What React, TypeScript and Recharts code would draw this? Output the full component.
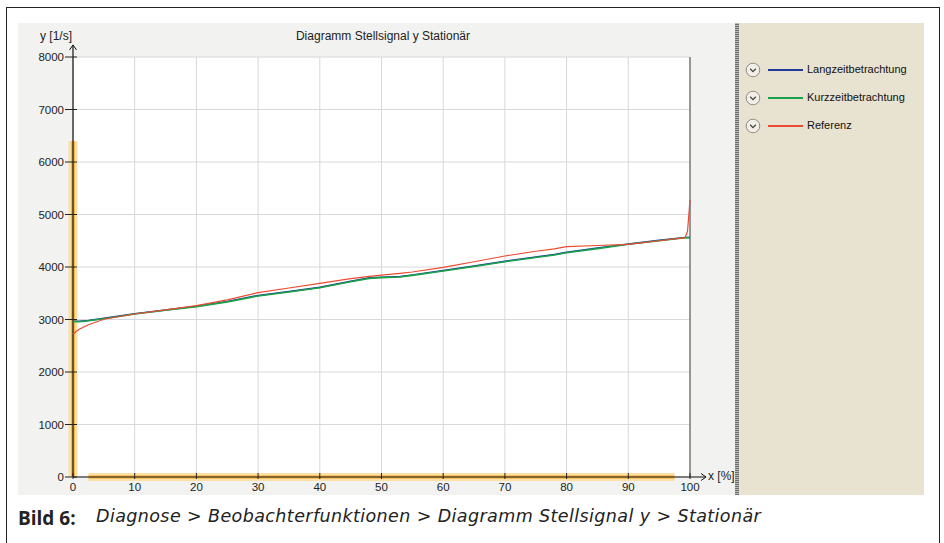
import { LineChart, Line, XAxis, YAxis, CartesianGrid, ReferenceLine } from 'recharts'

const xPct = [0, 0.5, 1, 2.5, 5, 10, 15, 20, 25, 30, 35, 40, 45, 48, 50, 53, 55, 60, 65, 70, 75, 78, 80, 85, 90, 95, 99.2, 99.6, 100]
const langzeit = [2968, 2966, 2966, 2983, 3022, 3112, 3183, 3253, 3345, 3458, 3535, 3616, 3730, 3793, 3806, 3820, 3850, 3934, 4020, 4111, 4190, 4240, 4282, 4360, 4440, 4508, 4562, 4562, 4562]
const kurzzeit = [2960, 2958, 2958, 2975, 3015, 3105, 3175, 3245, 3335, 3448, 3525, 3606, 3720, 3784, 3797, 3810, 3840, 3924, 4010, 4101, 4180, 4230, 4272, 4350, 4432, 4500, 4558, 4560, 4560]
const referenz = [2720, 2770, 2815, 2900, 3005, 3105, 3185, 3265, 3375, 3511, 3600, 3689, 3780, 3820, 3845, 3880, 3905, 3994, 4100, 4210, 4300, 4345, 4387, 4410, 4432, 4500, 4558, 4680, 5276]

const xTicks = [0, 10, 20, 30, 40, 50, 60, 70, 80, 90, 100]
const yTicks = [0, 1000, 2000, 3000, 4000, 5000, 6000, 7000, 8000]

const legendItems = [
  { name: 'Langzeitbetrachtung', color: '#23399a' },
  { name: 'Kurzzeitbetrachtung', color: '#19a24a' },
  { name: 'Referenz', color: '#ec4a32' },
]

const data = xPct.map((x, i) => ({ x, lang: langzeit[i], kurz: kurzzeit[i], ref: referenz[i] }))

const FONT = '"Liberation Sans", Arial, sans-serif'

function YTick(p: any) {
  const ax = p.x + 9
  return (
    <g>
      <line x1={ax - 8} x2={ax + 4} y1={p.y} y2={p.y} stroke="#222" />
      <text x={p.x} y={p.y} dy="0.36em" textAnchor="end" fontSize={11.5} fill="#222" fontFamily={FONT}>{p.payload.value}</text>
    </g>
  )
}

function XTick(p: any) {
  const ay = p.y - 5
  return (
    <g>
      <line x1={p.x} x2={p.x} y1={ay - 4} y2={ay + 2} stroke="#222" />
      <text x={p.x} y={p.y} dy="0.75em" textAnchor="middle" fontSize={11.5} fill="#222" fontFamily={FONT}>{p.payload.value}</text>
    </g>
  )
}

function ArrowUp(p: any) {
  const { x1, y1, x2, y2 } = p
  return (
    <g>
      <line x1={x1} y1={y1} x2={x2} y2={y2} stroke="#111" strokeWidth={1.2} />
      <path d={`M${x2 - 3.5},${y2 + 5} L${x2},${y2} L${x2 + 3.5},${y2 + 5}`} fill="none" stroke="#111" />
    </g>
  )
}

function ArrowRight(p: any) {
  const { x1, y1, x2, y2 } = p
  return (
    <g>
      <line x1={x1} y1={y1} x2={x2} y2={y2} stroke="#111" strokeWidth={1.2} />
      <path d={`M${x2 - 5},${y2 - 3.5} L${x2},${y2} L${x2 - 5},${y2 + 3.5}`} fill="none" stroke="#111" />
    </g>
  )
}

function Chevron({ y }: { y: number }) {
  return (
    <svg width={16} height={16} style={{ position: 'absolute', left: 745, top: y - 8 }}>
      <circle cx={8} cy={8} r={6.8} fill="#f3efe6" stroke="#8d8d8d" />
      <path d="M5.2,6.8 L8,9.6 L10.8,6.8" fill="none" stroke="#444" strokeWidth={1.3} />
    </svg>
  )
}

export default function App() {
  return (
    <div style={{ position: 'absolute', left: 0, top: 0, width: 944, height: 543, background: '#fff', overflow: 'hidden', fontFamily: FONT }}>
      {/* outer frame */}
      <div style={{ position: 'absolute', left: 6, top: 7, width: 932, height: 560, borderTop: '1.5px solid #222', borderLeft: '1.5px solid #222', borderRight: '1.5px solid #222' }} />

      {/* chart panel */}
      <div style={{ position: 'absolute', left: 18, top: 23, width: 717, height: 472, background: '#f2f2f0' }}>
        <LineChart width={717} height={472} data={data} margin={{ top: 34, right: 45, bottom: 0, left: 0 }}>
          <CartesianGrid stroke="#d8d8d8" fill="#ffffff" />
          <XAxis dataKey="x" type="number" domain={[0, 100]} ticks={xTicks} height={18} axisLine={false} tickLine={false} tickSize={2} tickMargin={3} tick={<XTick />} interval={0} />
          <YAxis type="number" domain={[0, 8000]} ticks={yTicks} width={55} axisLine={false} tickLine={false} tickSize={8} tickMargin={1} tick={<YTick />} interval={0} />
          <ReferenceLine x={100} stroke="#444" ifOverflow="visible" />
          <ReferenceLine segment={[{ x: 0, y: 0 }, { x: 0, y: 6400 }]} stroke="#fde0a6" strokeWidth={9} ifOverflow="visible" />
          <ReferenceLine segment={[{ x: 0, y: 0 }, { x: 0, y: 6400 }]} stroke="#f7b94c" strokeWidth={4} ifOverflow="visible" />
          <ReferenceLine segment={[{ x: 2.5, y: 0 }, { x: 97.5, y: 0 }]} stroke="#fde0a6" strokeWidth={8} ifOverflow="visible" />
          <ReferenceLine segment={[{ x: 2.5, y: 0 }, { x: 97.5, y: 0 }]} stroke="#f7b94c" strokeWidth={3.5} ifOverflow="visible" />
          <ReferenceLine segment={[{ x: 0, y: 0 }, { x: 0, y: 8230 }]} ifOverflow="visible" shape={ArrowUp} />
          <ReferenceLine segment={[{ x: 0, y: 0 }, { x: 102.6, y: 0 }]} ifOverflow="visible" shape={ArrowRight} />
          <Line dataKey="lang" stroke="#23399a" strokeWidth={1.5} dot={false} isAnimationActive={false} type="linear" />
          <Line dataKey="kurz" stroke="#19a24a" strokeWidth={1.6} dot={false} isAnimationActive={false} type="linear" />
          <Line dataKey="ref" stroke="#ec4a32" strokeWidth={1.2} dot={false} isAnimationActive={false} type="linear" />
        </LineChart>
        <div style={{ position: 'absolute', left: 22, top: 6, fontSize: 12, color: '#222' }}>y [1/s]</div>
        <div style={{ position: 'absolute', left: 200, width: 330, textAlign: 'center', top: 6, fontSize: 12, color: '#222' }}>Diagramm Stellsignal y Stationär</div>
        <div style={{ position: 'absolute', left: 690, top: 446, fontSize: 12, color: '#222' }}>x [%]</div>
      </div>

      {/* separator and legend panel */}
      <div style={{ position: 'absolute', left: 735, top: 23, width: 4, height: 472, background: 'repeating-linear-gradient(0deg, #6e6e6e 0 1px, #b8b8b8 1px 2px)' }} />
      <div style={{ position: 'absolute', left: 739, top: 23, width: 185, height: 472, background: '#e8e2d0' }} />
      {legendItems.map((it, i) => (
        <div key={it.name}>
          <Chevron y={70 + i * 28} />
          <div style={{ position: 'absolute', left: 768, top: 69 + i * 28, width: 35, height: 2, background: it.color }} />
          <div style={{ position: 'absolute', left: 807, top: 63 + i * 28, fontSize: 11, color: '#111', whiteSpace: 'nowrap' }}>{it.name}</div>
        </div>
      ))}

      {/* caption */}
      <div style={{ position: 'absolute', left: 18, top: 505, fontSize: 19, color: '#222', whiteSpace: 'nowrap' }}>
        <span style={{ fontWeight: 700, fontFamily: '"Open Sans", sans-serif' }}>Bild 6:</span>
        <span style={{ position: 'absolute', left: 78, top: 1, fontStyle: 'italic', fontSize: 17.5, fontFamily: '"DejaVu Sans", sans-serif', fontWeight: 300, letterSpacing: 0.4 }}>Diagnose &gt; Beobachterfunktionen &gt; Diagramm Stellsignal y &gt; Stationär</span>
      </div>
    </div>
  )
}
